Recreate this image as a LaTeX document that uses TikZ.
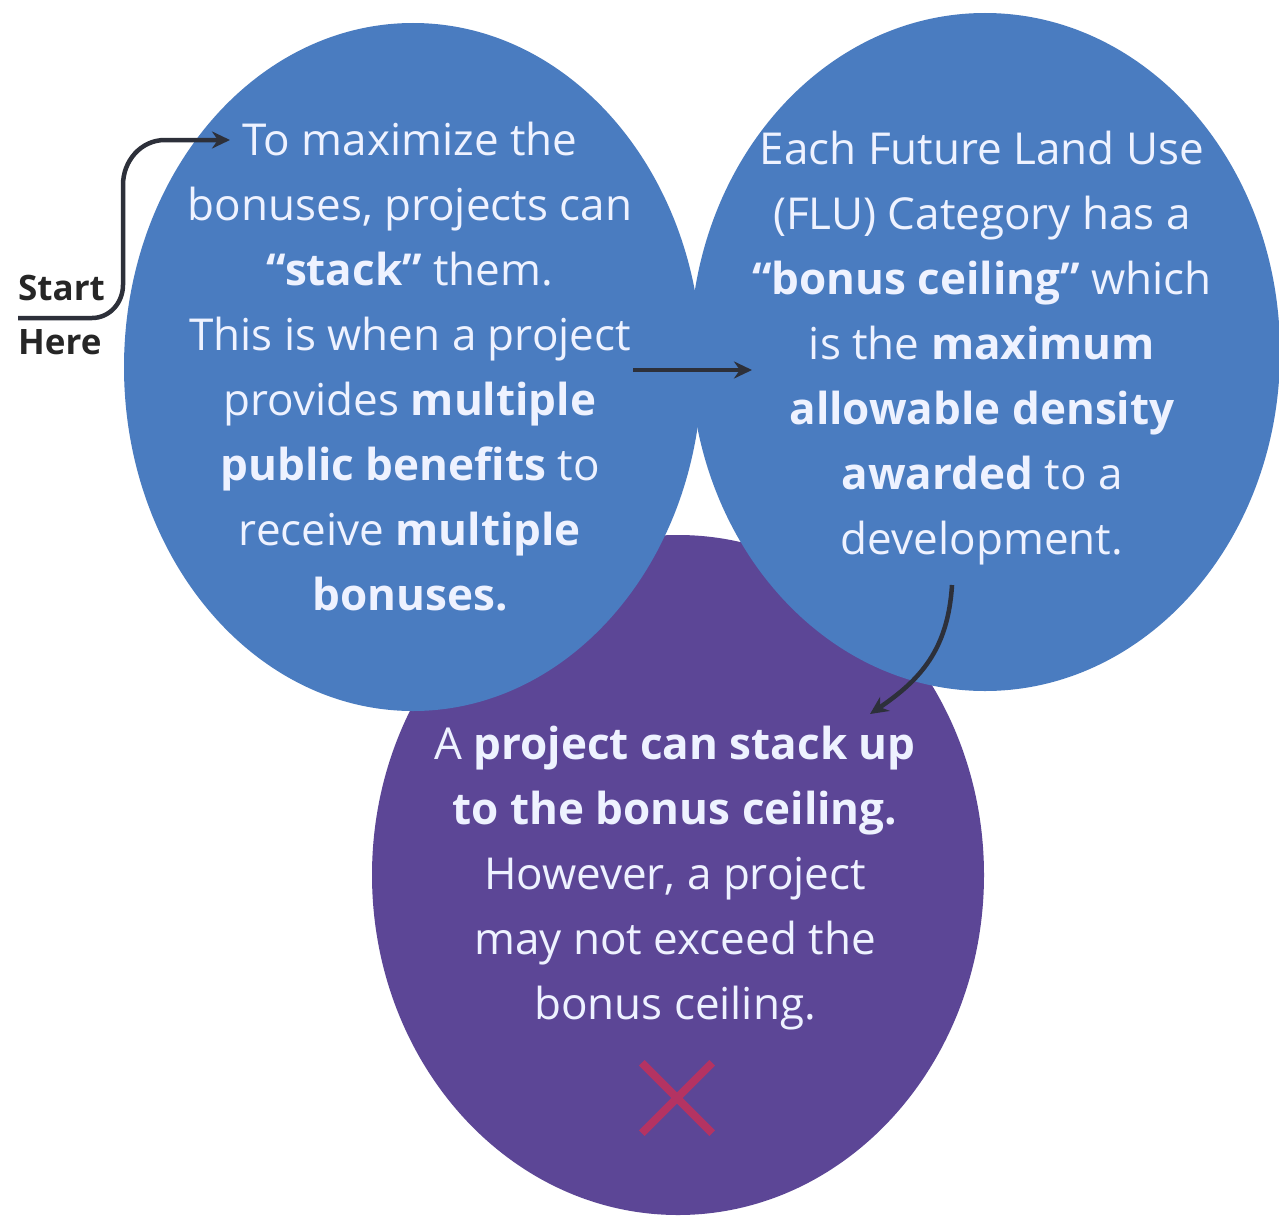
\documentclass[tikz,border=0pt]{standalone}
\usepackage{fontspec}
\setmainfont{Open Sans}
\usetikzlibrary{shapes.geometric,arrows.meta}
\definecolor{blueC}{RGB}{74,124,192}
\definecolor{purpC}{RGB}{92,70,150}
\definecolor{txtC}{RGB}{238,242,255}
\definecolor{arrC}{RGB}{45,48,58}
\definecolor{xC}{RGB}{196,48,90}
\tikzset{
  blob/.style={ellipse,inner sep=0pt,draw=none},
  body/.style={text=txtC,align=center,font=\fontsize{44}{65}\selectfont,inner sep=0pt},
  conn/.style={draw=arrC,line width=4.5pt,-{Stealth[length=18pt,width=17pt]}},
}
\begin{document}
\begin{tikzpicture}[x=1pt,y=-1pt]
\useasboundingbox (0,0) rectangle (1279,1215);
\fill[white] (0,0) rectangle (1279,1215);
\node[blob,fill=purpC,minimum width=612pt,minimum height=680pt] (c3) at (678,875) {};
\node[blob,fill=blueC,minimum width=578pt,minimum height=688pt] (c1) at (413,367) {};
\node[blob,fill=blueC,minimum width=590pt,minimum height=678pt] (c2) at (985,352) {};

\node[body] (t1) at (410,367) {To maximize the\\bonuses, projects can\\\textbf{“stack”} them.\\This is when a project\\provides \textbf{multiple}\\\textbf{public benefits} to\\receive \textbf{multiple}\\\textbf{bonuses.}};
\node[body] (t2) at (982,348) {Each Future Land Use\\(FLU) Category has a\\\textbf{“bonus ceiling”} which\\is the \textbf{maximum}\\\textbf{allowable density}\\\textbf{awarded} to a\\development.};
\node[body] (t3) at (675,878) {A \textbf{project can stack up}\\\textbf{to the bonus ceiling.}\\However, a project\\may not exceed the\\bonus ceiling.};

\node[text=black!85,font=\fontsize{35}{54}\selectfont\bfseries,align=left,anchor=west,inner sep=0pt] (start) at (18,315) {Start\\Here};

\coordinate (s0) at (18,318);
\coordinate (s1) at (230,140);
\draw[conn] (s0) -- (92,318) to[out=0,in=-90] (123,285) -- (123,185) to[out=90,in=180] (165,140) -- (s1);

\coordinate (m0) at (633,370);
\coordinate (m1) at (752,370);
\draw[conn] (m0) -- (m1);

\coordinate (b0) at (952,585);
\coordinate (b1) at (870,714);
\draw[conn] (b0) .. controls (948,650) and (920,680) .. (b1);

\node[inner sep=0pt,minimum size=70pt] (x) at (677,1098) {};
\draw[xC,line width=8pt,opacity=0.85] (x.north west) -- (x.south east) (x.north east) -- (x.south west);
\end{tikzpicture}
\end{document}
